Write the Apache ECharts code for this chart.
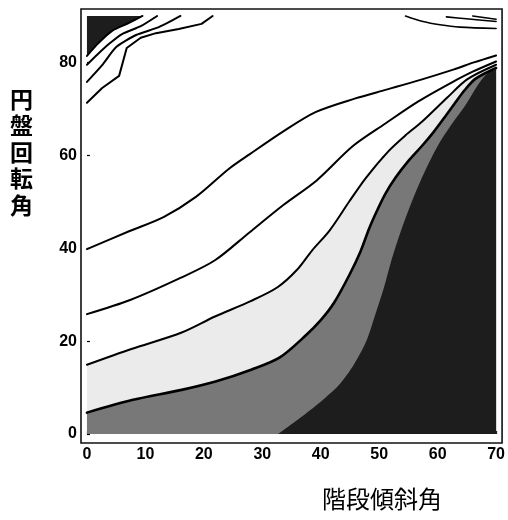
<!DOCTYPE html>
<html>
<head>
<meta charset="utf-8">
<script src="https://cdn.jsdelivr.net/npm/echarts@6/dist/echarts.min.js"></script>
<style>
  html, body { margin: 0; padding: 0; background: #fff; }
  #chart { width: 508px; height: 520px; }
</style>
</head>
<body>
<div id="chart"></div>
<script>
// Axis ticks
var xTicks = [0, 10, 20, 30, 40, 50, 60, 70];
var yTicks = [0, 20, 40, 60, 80];

// Contour lines, [階段傾斜角, 円盤回転角] pairs
var contourA = [[0, 39.8], [7.3, 43.7], [13.1, 46.7], [18.7, 51.1], [24.2, 57], [27.8, 60.2], [33.4, 65], [39.1, 69.3], [45.8, 72.2], [51.4, 74.2], [57.2, 76.3], [62.8, 78.5], [66.2, 80], [70, 81.5]];
var contourB = [[0, 25.8], [7.5, 28.9], [16, 33.6], [21.9, 37.4], [27.8, 43.4], [33.6, 49.3], [39.3, 54.6], [45.5, 62], [51, 66.8], [56.7, 71.6], [62.3, 75.6], [66, 78], [70, 80.2]];
var contourC = [[0, 14.9], [7.6, 18.3], [16.1, 21.8], [21.9, 25.3], [28, 28.6], [32.6, 31.6], [35.9, 35.3], [38.5, 39.5], [41.5, 43.8], [44.9, 50.1], [47.7, 55.1], [51.6, 60.9], [54.5, 64.3], [57.3, 67.2], [61.7, 72.5], [65.1, 76.4], [70, 79.5]];
var contourD = [[0, 4.6], [7.7, 7.3], [16.2, 9.5], [22, 11.3], [28.2, 13.9], [33, 16.5], [37.5, 21.3], [40, 24.5], [42.3, 28.3], [45, 34.5], [46.8, 39.3], [48.3, 44.3], [49.6, 48], [51, 51.6], [52.8, 55.2], [55, 58.8], [57.3, 62], [59.3, 65], [61.2, 68.2], [63, 71.3], [64.6, 74], [66.5, 76.5], [70, 78.8]];
var contourE = [[32.7, 0], [36.5, 3.5], [40.5, 7.5], [43.3, 10.8], [45.7, 15], [47.8, 20], [49.4, 26], [50.8, 31.5], [52, 37], [53.8, 44], [55.9, 51], [57.8, 56.5], [60, 62], [62.3, 66.5], [64.6, 70.5], [66.8, 75], [68.4, 77.5], [70, 78.5]];

// Upper-left peak and its rings
var peakEdge = [[0, 81.4], [2, 84.2], [4.3, 86.8], [7.2, 88.5], [9.5, 90]];
var ringT1 = [[0, 79.5], [1.7, 81.6], [3.8, 84], [6, 86.1], [9.2, 87.8], [12, 90]];
var ringT2 = [[0, 75.8], [2.6, 79.4], [5, 83.3], [8.4, 85.9], [12.3, 87.6], [16, 90]];
var ringT3 = [[0, 71.3], [2.6, 74.5], [5.5, 77.1], [6.8, 83.1], [9.2, 85.3], [11.8, 86.3], [15.7, 87.2], [19.6, 88.3], [21.5, 90]];

// Upper-right rings
var ringR1 = [[54.5, 90], [57.5, 88.8], [60.4, 88.1], [63.8, 87.6], [70, 87.3]];
var ringR2 = [[61.5, 89.8], [64.9, 89.4], [70, 88.8]];
var ringR3 = [[66, 90], [70, 89.3]];

// Band shades
var shadeLight = '#ebebeb';
var shadeMid = '#787878';
var shadeDark = '#1d1d1d';

var SMOOTH = 0.3;

function band(data, color, z, origin, smooth) {
  return {
    type: 'line', data: data, z: z, silent: true,
    showSymbol: false, symbol: 'none',
    smooth: smooth || false,
    lineStyle: { width: 0, opacity: 0 },
    areaStyle: { color: color, opacity: 1, origin: origin === null ? 'auto' : origin }
  };
}
function contour(data, width, smooth) {
  return {
    type: 'line', data: data, z: 5, silent: true,
    showSymbol: false, symbol: 'none',
    smooth: smooth || false,
    lineStyle: { color: '#000', width: width, cap: 'round', join: 'round' }
  };
}

var chart = echarts.init(document.getElementById('chart'), null, { renderer: 'canvas' });
chart.setOption({
  animation: false,
  backgroundColor: '#fff',
  grid: {
    left: 81, right: 5, top: 9, bottom: 77,
    show: true, borderColor: '#111', borderWidth: 1.6, backgroundColor: '#fff'
  },
  xAxis: {
    type: 'value', min: -1.02, max: 71.02,
    axisLine: { show: false },
    splitLine: { show: false },
    axisTick: { show: true, inside: true, length: 3, customValues: xTicks, lineStyle: { color: '#000', width: 1.2 } },
    axisLabel: {
      customValues: xTicks, margin: 4, color: '#000',
      fontFamily: 'Liberation Sans', fontSize: 16, fontWeight: 'bold'
    }
  },
  yAxis: {
    type: 'value', min: -1.94, max: 91.5,
    axisLine: { show: false },
    splitLine: { show: false },
    axisTick: { show: true, inside: true, length: 3, customValues: yTicks, lineStyle: { color: '#000', width: 1.2 } },
    axisLabel: {
      customValues: yTicks, margin: 4, color: '#000',
      fontFamily: 'Liberation Sans', fontSize: 16, fontWeight: 'bold'
    }
  },
  graphic: [
    {
      type: 'text', left: 10, top: 86,
      style: {
        text: '円\n盤\n回\n転\n角', fill: '#000',
        font: 'bold 23px "Noto Sans CJK JP"', lineHeight: 26.5, align: 'center'
      }
    },
    {
      type: 'text', left: 322, top: 487,
      style: {
        text: '階段傾斜角', fill: '#000',
        font: '24px "Noto Sans CJK JP"'
      }
    }
  ],
  series: [
    band(contourC, shadeLight, 1, null, SMOOTH),
    band(contourD, shadeMid, 2, null, SMOOTH),
    band(contourE, shadeDark, 3, null, SMOOTH),
    band(peakEdge, shadeDark, 3, 90, SMOOTH),
    contour(contourA, 2, SMOOTH),
    contour(contourB, 2, SMOOTH),
    contour(contourC, 2, SMOOTH),
    contour(contourD, 2.6, SMOOTH),
    contour(peakEdge, 2, SMOOTH),
    contour(ringT1, 2, 0.2),
    contour(ringT2, 2, 0.2),
    contour(ringT3, 2),
    contour(ringR1, 1.6, 0.3),
    contour(ringR2, 1.6, 0.3),
    contour(ringR3, 1.6)
  ]
});
</script>
</body>
</html>
